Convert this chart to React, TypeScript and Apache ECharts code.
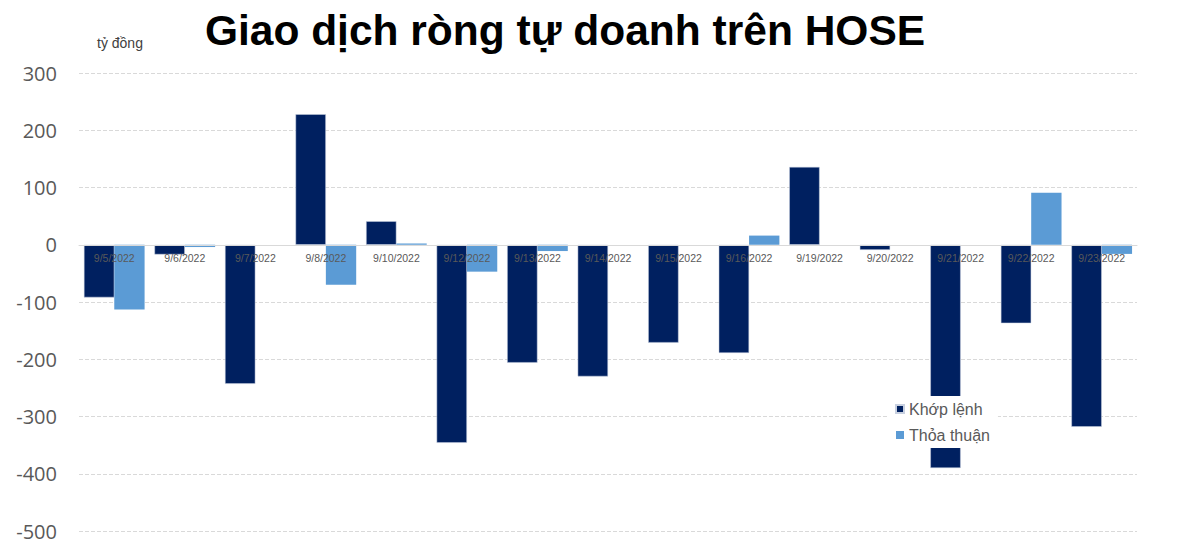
import React, { useEffect, useRef } from "react";
import * as echarts from "echarts";

const categories = [
  "9/5/2022", "9/6/2022", "9/7/2022", "9/8/2022", "9/10/2022",
  "9/12/2022", "9/13/2022", "9/14/2022", "9/15/2022", "9/16/2022",
  "9/19/2022", "9/20/2022", "9/21/2022", "9/22/2022", "9/23/2022",
];
const khopLenh = [-92, -17, -243, 228, 41, -346, -206, -230, -171, -189, 136, -9, -390, -137, -318];
const thoaThuan = [-113, -4, 0, -70, 2, -47, -11, 0, 0, 16, 0, 0, 0, 91, -16];
const seriesNames = ["Khớp lệnh", "Thỏa thuận"];
const titleText = "Giao dịch ròng tự doanh trên HOSE";
const unitText = "tỷ đồng";

export default function App() {
  const ref = useRef<HTMLDivElement>(null);
  useEffect(() => {
    if (!ref.current) return;
    const chart = echarts.init(ref.current, null, { renderer: "svg" });
    chart.setOption({
      animation: false,
      backgroundColor: "#ffffff",
      textStyle: { fontFamily: "Liberation Sans" },
      grid: { left: 79, right: 63, top: 73, bottom: 21, containLabel: false },
      graphic: [
        {
          type: "text",
          x: 565,
          y: 30,
          style: {
            text: titleText,
            fontFamily: "Liberation Sans",
            fontWeight: "bold",
            fontSize: 42.5,
            fill: "#000000",
            textAlign: "center",
            textVerticalAlign: "middle",
          },
        },
        {
          type: "text",
          x: 97,
          y: 43,
          style: {
            text: unitText,
            fontFamily: "Liberation Sans",
            fontSize: 14,
            fill: "#404040",
            textAlign: "left",
            textVerticalAlign: "middle",
          },
        },
      ],
      legend: {
        orient: "vertical",
        left: 888,
        top: 396,
        padding: [5, 8, 5, 7],
        itemGap: 10,
        itemWidth: 8,
        itemHeight: 8,
        backgroundColor: "#ffffff",
        icon: "rect",
        textStyle: { fontSize: 16, color: "#595959", fontFamily: "Liberation Sans" },
        data: seriesNames,
      },
      xAxis: {
        type: "category",
        data: categories,
        z: 5,
        axisLine: { onZero: true, lineStyle: { color: "#d9d9d9", width: 1 } },
        axisTick: { show: false },
        axisLabel: {
          color: "#595959",
          fontSize: 10.5,
          margin: -279,
          interval: 0,
          fontFamily: "Liberation Sans",
        },
      },
      yAxis: {
        type: "value",
        min: -500,
        max: 300,
        interval: 100,
        axisLine: { show: false },
        axisTick: { show: false },
        axisLabel: { color: "#595959", fontSize: 20, margin: 22, fontFamily: "Open Sans" },
        splitLine: { lineStyle: { color: "#d9d9d9", type: [4, 2], width: 1 } },
      },
      series: [
        {
          name: seriesNames[0],
          type: "bar",
          data: khopLenh,
          barGap: "0%",
          barCategoryGap: "14%",
          itemStyle: { color: "#002060", borderColor: "#c8d0e0", borderWidth: 0.5 },
        },
        {
          name: seriesNames[1],
          type: "bar",
          data: thoaThuan,
          barGap: "0%",
          barCategoryGap: "14%",
          itemStyle: { color: "#5b9bd5", borderWidth: 0 },
        },
      ],
    });
    return () => chart.dispose();
  }, []);
  return <div ref={ref} style={{ width: 1200, height: 552, position: "absolute", left: 0, top: 0 }} />;
}
